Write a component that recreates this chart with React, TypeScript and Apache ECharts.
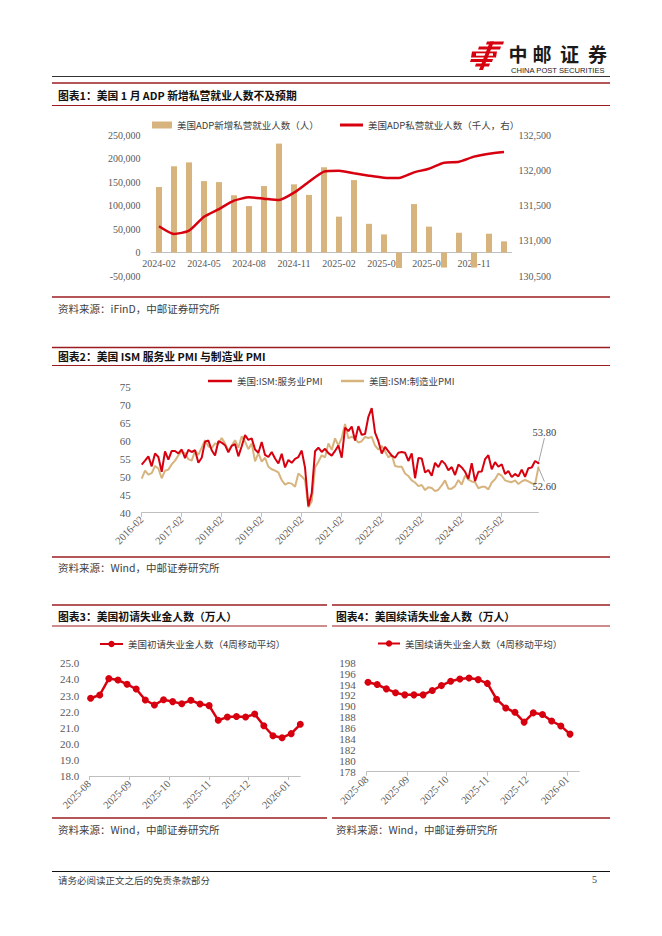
import React, { useEffect, useRef } from 'react';
import * as echarts from 'echarts';

const RED = '#D7000F';
const TAN = '#D7B47E';
const MAROON = '#9B1C20';
const AXIS = '#BFBFBF';
const LABEL = '#595959';
const SERIF = '"Liberation Serif", "Times New Roman", serif';
const CJK = '"Noto Sans CJK SC", "Noto Sans", sans-serif';

// ---------- Chart 1: ADP ----------
const adpMonths = [
  '2024-02', '2024-03', '2024-04', '2024-05', '2024-06', '2024-07', '2024-08', '2024-09',
  '2024-10', '2024-11', '2024-12', '2025-01', '2025-02', '2025-03', '2025-04', '2025-05',
  '2025-06', '2025-07', '2025-08', '2025-09', '2025-10', '2025-11', '2025-12', '2026-01',
];
const adpChange = [
  139300, 183400, 191800, 151900, 149800, 121800, 98700, 141400,
  231700, 145000, 122500, 181300, 76300, 154000, 61000, 38500,
  -33000, 103000, 55000, -32000, 42000, -32000, 40000, 23700,
];
const adpLevel = [
  131205, 131096, 131143, 131341, 131450, 131568, 131616, 131597,
  131578, 131682, 131838, 131980, 131994, 131956, 131923, 131895,
  131890, 131970, 132022, 132107, 132121, 132193, 132235, 132259,
];
const adpLeftMin = -50000;
const adpLeftMax = 250000;

// ---------- Chart 2: ISM PMI ----------
const pmiMonths: string[] = [];
{
  let y = 2016;
  let m = 2;
  while (y < 2026 || (y === 2026 && m <= 1)) {
    pmiMonths.push(`${y}-${String(m).padStart(2, '0')}`);
    m++;
    if (m > 12) { m = 1; y++; }
  }
}
const servicesPMI = [
  53.4, 54.5, 55.7, 52.9, 56.5, 55.5, 51.4, 57.1, 54.8, 57.2, 57.2,
  56.5, 57.6, 55.2, 57.5, 56.9, 57.4, 53.9, 55.3, 59.8, 60.1, 57.4, 55.9,
  59.9, 59.5, 58.8, 56.8, 58.6, 59.1, 55.7, 58.5, 61.6, 60.3, 60.7, 57.6,
  56.7, 59.7, 56.1, 55.5, 56.9, 55.1, 53.7, 56.4, 52.6, 54.7, 53.9, 55.0,
  55.5, 57.3, 52.5, 41.8, 45.4, 57.1, 58.1, 56.9, 57.8, 56.6, 55.9, 57.2,
  58.7, 55.3, 63.7, 62.7, 64.0, 60.1, 64.1, 61.7, 61.9, 66.7, 69.1, 62.3,
  59.9, 56.5, 58.3, 57.1, 55.9, 55.3, 56.7, 56.9, 56.7, 54.4, 56.5, 49.6,
  55.2, 55.1, 51.2, 51.9, 50.3, 53.9, 52.7, 54.5, 53.6, 51.8, 52.7, 50.5,
  53.4, 52.6, 51.4, 49.4, 53.8, 48.8, 51.4, 51.5, 54.9, 56.0, 52.1, 54.1,
  52.8, 53.5, 50.8, 51.6, 49.9, 50.8, 50.1, 52.0, 50.0, 52.4, 52.6, 54.4,
  53.8,
];
const manufPMI = [
  49.5, 51.7, 50.6, 51.0, 53.0, 52.3, 49.6, 51.7, 52.0, 53.5, 54.5,
  56.0, 57.0, 56.6, 54.9, 54.5, 57.2, 56.1, 58.1, 60.2, 58.5, 58.0, 59.3,
  59.1, 60.8, 59.3, 57.3, 58.7, 60.2, 58.1, 61.3, 59.8, 57.7, 59.3, 54.3,
  56.6, 54.2, 55.3, 52.8, 52.1, 51.7, 51.2, 49.1, 47.8, 48.3, 48.1, 47.2,
  50.9, 50.1, 49.1, 41.5, 43.1, 52.6, 54.2, 56.0, 55.4, 59.3, 57.5, 60.7,
  58.7, 60.8, 64.7, 60.7, 61.2, 60.6, 59.5, 59.9, 61.1, 60.8, 61.1, 58.7,
  57.6, 58.6, 57.1, 55.4, 56.1, 53.0, 52.8, 52.8, 50.9, 50.2, 49.0, 48.4,
  47.4, 47.7, 46.3, 47.1, 46.9, 46.0, 46.4, 47.6, 49.0, 46.7, 46.7, 47.4,
  49.1, 47.8, 50.3, 49.2, 48.7, 48.5, 46.8, 47.2, 47.2, 46.5, 48.4, 49.3,
  50.9, 50.3, 49.0, 48.7, 48.5, 49.0, 48.0, 48.7, 49.1, 48.7, 48.2, 47.9,
  52.6,
];

// ---------- Chart 3 & 4: jobless claims (4-week moving average) ----------
const initialDates = [
  '2025-08-02', '2025-08-09', '2025-08-16', '2025-08-23', '2025-08-30', '2025-09-06',
  '2025-09-13', '2025-09-20', '2025-09-27', '2025-10-04', '2025-10-11', '2025-10-18',
  '2025-10-25', '2025-11-01', '2025-11-08', '2025-11-15', '2025-11-22', '2025-11-29',
  '2025-12-06', '2025-12-13', '2025-12-20', '2025-12-27', '2026-01-03', '2026-01-10',
];
const initialClaims = [
  22.83, 23.03, 24.05, 23.96, 23.7, 23.4, 22.72, 22.41, 22.74, 22.62, 22.49, 22.7,
  22.47, 22.37, 21.46, 21.66, 21.7, 21.66, 21.85, 21.12, 20.5, 20.38, 20.63, 21.21,
];
const continuingDates = [
  '2025-08-02', '2025-08-09', '2025-08-16', '2025-08-23', '2025-08-30', '2025-09-06',
  '2025-09-13', '2025-09-20', '2025-09-27', '2025-10-04', '2025-10-11', '2025-10-18',
  '2025-10-25', '2025-11-01', '2025-11-08', '2025-11-15', '2025-11-22', '2025-11-29',
  '2025-12-06', '2025-12-13', '2025-12-20', '2025-12-27', '2026-01-03',
];
const continuingClaims = [
  194.4, 194.0, 193.2, 192.5, 192.1, 192.1, 192.1, 192.9, 193.8, 194.6, 195.0, 195.2,
  194.9, 194.2, 191.3, 189.7, 188.9, 187.1, 188.8, 188.5, 187.3, 186.4, 184.9,
];

const S1_BAR = '美国ADP新增私营就业人数（人）';
const S1_LINE = '美国ADP私营就业人数（千人，右）';
const S2_A = '美国:ISM:服务业PMI';
const S2_B = '美国:ISM:制造业PMI';
const S3 = '美国初请失业金人数（4周移动平均）';
const S4 = '美国续请失业金人数（4周移动平均）';

const fmtMonth = (v: number) => {
  const d = new Date(v);
  return `${d.getFullYear()}-${String(d.getMonth() + 1).padStart(2, '0')}`;
};

const axisLabelBase = { color: LABEL, fontFamily: SERIF, fontSize: 10 };
const hiddenYAxisParts = {
  axisLine: { show: false },
  axisTick: { show: false },
  splitLine: { show: false },
};

const txt = (x: number, y: number, text: string, o: any = {}) => ({
  type: 'text',
  x,
  y,
  silent: true,
  style: {
    text,
    fill: '#404040',
    fontSize: 10.5,
    fontFamily: CJK,
    verticalAlign: 'middle',
    align: 'left',
    ...o,
  },
});
const hline = (x1: number, x2: number, y: number, stroke: string, lineWidth: number) => ({
  type: 'line',
  silent: true,
  shape: { x1, y1: y, x2, y2: y },
  style: { stroke, lineWidth },
});
const poly = (points: number[][]) => ({
  type: 'polygon',
  silent: true,
  shape: { points },
  style: { fill: RED },
});

const titleStyle = { fill: '#111', fontSize: 10.8, fontWeight: 'bold' };
const srcStyle = { fill: '#404040', fontSize: 10.5 };

function buildOption() {
  const legendText = { color: '#404040', fontSize: 9.5, fontFamily: CJK, lineHeight: 12 };
  const lastLabel = (arr: number[], position: string) =>
    arr.map((v, i) =>
      i === arr.length - 1
        ? { value: v, symbol: 'circle', symbolSize: 2, label: { show: true, position, formatter: v.toFixed(2) } }
        : v
    );

  // chart 1 geometry: zero line offset from the grid bottom
  const g1Top = 135;
  const g1Height = 141;
  const zeroOffset = -(g1Height * (0 - adpLeftMin)) / (adpLeftMax - adpLeftMin);

  return {
    animation: false,
    backgroundColor: '#ffffff',
    textStyle: { fontFamily: SERIF },
    grid: [
      { left: 151.5, top: g1Top, width: 360, height: g1Height },
      { left: 141.7, top: 387, width: 396.7, height: 125.7 },
      { left: 89.3, top: 663.3, width: 211, height: 112.7 },
      { left: 366.7, top: 662.7, width: 212.5, height: 109 },
    ],
    legend: [
      {
        left: 152, top: 119, padding: 0, itemWidth: 20, itemHeight: 7,
        data: [{ name: S1_BAR, icon: 'rect' }], textStyle: legendText,
      },
      {
        left: 340, top: 119, padding: 0, itemWidth: 23, itemHeight: 3,
        data: [{ name: S1_LINE, icon: 'rect' }], textStyle: legendText,
      },
      {
        left: 208, top: 375, padding: 0, itemWidth: 24, itemHeight: 2.5,
        data: [{ name: S2_A, icon: 'rect' }], textStyle: legendText,
      },
      {
        left: 341, top: 375, padding: 0, itemWidth: 23, itemHeight: 2.5,
        data: [{ name: S2_B, icon: 'rect' }], textStyle: legendText,
      },
      {
        left: 99, top: 638, padding: 0, itemWidth: 23, itemHeight: 8,
        data: [S3], textStyle: legendText,
      },
      {
        left: 377, top: 637.5, padding: 0, itemWidth: 22, itemHeight: 8,
        data: [S4], textStyle: legendText,
      },
    ],
    xAxis: [
      {
        type: 'category', gridIndex: 0, data: adpMonths, boundaryGap: true,
        position: 'bottom', offset: zeroOffset,
        axisLine: { onZero: false, lineStyle: { color: AXIS } },
        axisTick: { show: false },
        axisLabel: { ...axisLabelBase, interval: 2, margin: 6 },
        splitLine: { show: false },
      },
      {
        type: 'category', gridIndex: 1, data: pmiMonths, boundaryGap: false,
        axisLine: { lineStyle: { color: AXIS } },
        axisTick: { interval: 11, length: 4, lineStyle: { color: AXIS } },
        axisLabel: { ...axisLabelBase, fontSize: 10.5, interval: 11, rotate: 45, margin: 5 },
        splitLine: { show: false },
      },
      {
        type: 'time', gridIndex: 2, min: '2025-08-01', max: '2026-01-10', splitNumber: 6,
        minInterval: 28 * 86400000,
        axisLine: { lineStyle: { color: AXIS } },
        axisTick: { length: 4, lineStyle: { color: AXIS } },
        axisLabel: { ...axisLabelBase, fontSize: 10.5, rotate: 45, margin: 6, formatter: fmtMonth },
        splitLine: { show: false },
      },
      {
        type: 'time', gridIndex: 3, min: '2025-08-01', max: '2026-01-10', splitNumber: 6,
        minInterval: 28 * 86400000,
        axisLine: { lineStyle: { color: AXIS } },
        axisTick: { length: 4, lineStyle: { color: AXIS } },
        axisLabel: { ...axisLabelBase, fontSize: 10.5, rotate: 45, margin: 6, formatter: fmtMonth },
        splitLine: { show: false },
      },
    ],
    yAxis: [
      {
        type: 'value', gridIndex: 0, min: adpLeftMin, max: adpLeftMax, interval: 50000,
        ...hiddenYAxisParts,
        axisLabel: { ...axisLabelBase, margin: 11, formatter: (v: number) => v.toLocaleString('en-US') },
      },
      {
        type: 'value', gridIndex: 0, position: 'right', min: 130500, max: 132500, interval: 500,
        ...hiddenYAxisParts,
        axisLabel: { ...axisLabelBase, margin: 7, formatter: (v: number) => v.toLocaleString('en-US') },
      },
      {
        type: 'value', gridIndex: 1, min: 40, max: 75, interval: 5,
        ...hiddenYAxisParts,
        axisLabel: { ...axisLabelBase, fontSize: 11, margin: 11 },
      },
      {
        type: 'value', gridIndex: 2, min: 18, max: 25, interval: 1,
        ...hiddenYAxisParts,
        axisLabel: { ...axisLabelBase, fontSize: 11, margin: 10, formatter: (v: number) => v.toFixed(1) },
      },
      {
        type: 'value', gridIndex: 3, min: 178, max: 198, interval: 2,
        ...hiddenYAxisParts,
        axisLabel: { ...axisLabelBase, fontSize: 11, margin: 11 },
      },
    ],
    series: [
      {
        name: S1_BAR, type: 'bar', xAxisIndex: 0, yAxisIndex: 0, data: adpChange,
        barWidth: 6, itemStyle: { color: TAN },
      },
      {
        name: S1_LINE, type: 'line', xAxisIndex: 0, yAxisIndex: 1, data: adpLevel,
        symbol: 'none', showSymbol: false, smooth: 0.2, z: 3,
        lineStyle: { color: RED, width: 2.5 }, itemStyle: { color: RED },
      },
      {
        name: S2_B, type: 'line', xAxisIndex: 1, yAxisIndex: 2,
        data: lastLabel(manufPMI, 'bottom'),
        symbol: 'none', showSymbol: true, showAllSymbol: true, z: 2,
        lineStyle: { color: TAN, width: 2 }, itemStyle: { color: TAN },
        label: { show: false, color: '#404040', fontSize: 10.5, fontFamily: SERIF },
        labelLine: { show: true, lineStyle: { color: '#8c8c8c', width: 0.8 } },
        labelLayout: { dx: 6, dy: 8 },
      },
      {
        name: S2_A, type: 'line', xAxisIndex: 1, yAxisIndex: 2,
        data: lastLabel(servicesPMI, 'top'),
        symbol: 'none', showSymbol: true, showAllSymbol: true, z: 3,
        lineStyle: { color: RED, width: 2 }, itemStyle: { color: RED },
        label: { show: false, color: '#404040', fontSize: 10.5, fontFamily: SERIF },
        labelLine: { show: true, lineStyle: { color: '#8c8c8c', width: 0.8 } },
        labelLayout: { dx: 6, dy: -19 },
      },
      {
        name: S3, type: 'line', xAxisIndex: 2, yAxisIndex: 3,
        data: initialDates.map((d, i) => [d, initialClaims[i]]),
        symbol: 'circle', symbolSize: 7, showSymbol: true,
        lineStyle: { color: RED, width: 2.5 }, itemStyle: { color: RED },
      },
      {
        name: S4, type: 'line', xAxisIndex: 3, yAxisIndex: 4,
        data: continuingDates.map((d, i) => [d, continuingClaims[i]]),
        symbol: 'circle', symbolSize: 7, showSymbol: true,
        lineStyle: { color: RED, width: 2.5 }, itemStyle: { color: RED },
      },
    ],
    graphic: [
      // header logo
      poly([[487, 41.5], [504, 41.5], [503, 44.5], [486, 44.5]]),
      poly([[479, 46.5], [501, 46.5], [500, 49.5], [478, 49.5]]),
      poly([[472, 51.5], [497, 51.5], [496, 57.5], [471, 57.5]]),
      { type: 'rect', silent: true, shape: { x: 476, y: 53.3, width: 17, height: 2.4 }, style: { fill: '#fff' } },
      poly([[471, 59], [493, 59], [492, 62], [470, 62]]),
      poly([[476, 63.5], [490, 63.5], [489, 66.5], [475, 66.5]]),
      poly([[490, 41.5], [494, 41.5], [483, 70], [479, 70]]),
      txt(518, 53.5, '中', { fill: '#1a1a1a', fontSize: 19, fontWeight: 'bold', align: 'center' }),
      txt(542, 53.5, '邮', { fill: '#1a1a1a', fontSize: 19, fontWeight: 'bold', align: 'center' }),
      txt(569.5, 53.5, '证', { fill: '#1a1a1a', fontSize: 19, fontWeight: 'bold', align: 'center' }),
      txt(597.5, 53.5, '券', { fill: '#1a1a1a', fontSize: 19, fontWeight: 'bold', align: 'center' }),
      txt(511, 70, 'CHINA POST SECURITIES', { fill: '#1a1a1a', fontSize: 7.6, fontFamily: '"Liberation Sans", Arial, sans-serif' }),
      hline(52, 610, 76.5, '#333', 1),

      // chart 1 frame
      hline(52, 610, 83, MAROON, 1.5),
      txt(58, 95, '图表1：美国 1 月 ADP 新增私营就业人数不及预期', titleStyle),
      hline(52, 610, 105.5, MAROON, 1.2),
      hline(52, 610, 297, MAROON, 1.5),
      txt(58, 308, '资料来源：iFinD，中邮证券研究所', srcStyle),

      // chart 2 frame
      hline(52, 610, 347.5, MAROON, 1.5),
      txt(58, 356, '图表2：美国 ISM 服务业 PMI 与制造业 PMI', titleStyle),
      hline(52, 610, 365.5, MAROON, 1.2),
      hline(52, 610, 557, MAROON, 1.5),
      txt(58, 567.5, '资料来源：Wind，中邮证券研究所', srcStyle),

      // chart 3 frame
      hline(52, 327, 605, MAROON, 1.5),
      txt(58, 616, '图表3：美国初请失业金人数（万人）', titleStyle),
      hline(52, 327, 626, MAROON, 1.2),
      hline(52, 327, 818, MAROON, 1.5),
      txt(58, 829, '资料来源：Wind，中邮证券研究所', srcStyle),

      // chart 4 frame
      hline(332, 610, 605, MAROON, 1.5),
      txt(336, 616, '图表4：美国续请失业金人数（万人）', titleStyle),
      hline(332, 610, 626, MAROON, 1.2),
      hline(332, 610, 818, MAROON, 1.5),
      txt(336, 829, '资料来源：Wind，中邮证券研究所', srcStyle),

      // footer
      hline(52, 610, 871.5, '#111', 1),
      txt(58, 879.5, '请务必阅读正文之后的免责条款部分', { fontSize: 9.5, fill: '#404040' }),
      txt(592, 879.5, '5', { fontSize: 10, fill: '#404040', fontFamily: SERIF }),
    ],
  };
}

export default function App() {
  const ref = useRef<HTMLDivElement>(null);
  useEffect(() => {
    if (!ref.current) return;
    const chart = echarts.init(ref.current, undefined, { renderer: 'svg' });
    chart.setOption(buildOption() as any);
    return () => chart.dispose();
  }, []);
  return (
    <div
      ref={ref}
      style={{ position: 'absolute', left: 0, top: 0, width: 662, height: 936, background: '#fff' }}
    />
  );
}
